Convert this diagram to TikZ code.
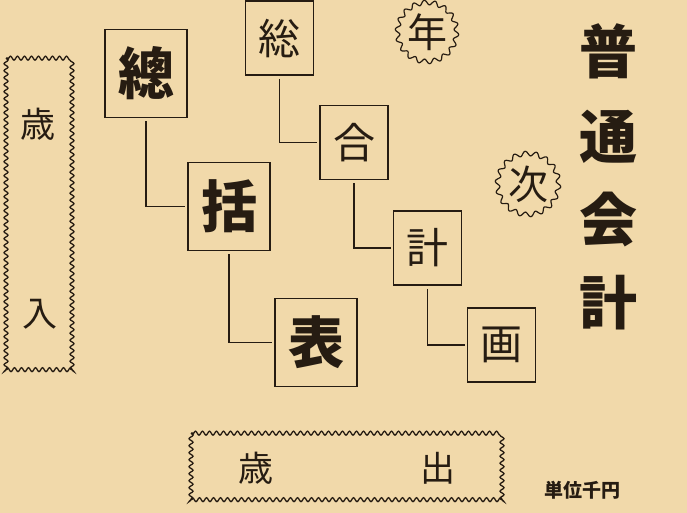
\documentclass[tikz,border=0pt]{standalone}
\usepackage{fontspec}
\setmainfont{Noto Sans CJK JP}
\usetikzlibrary{decorations.pathmorphing}
\definecolor{paper}{RGB}{241,217,170}
\definecolor{ink}{RGB}{38,28,18}
\tikzset{
  bigbox/.style={draw=ink, text=ink, line width=1.8pt, minimum width=82pt, minimum height=88pt, inner sep=0pt, font=\fontsize{56}{56}\selectfont\bfseries},
  smallbox/.style={draw=ink, text=ink, line width=1.6pt, minimum width=68pt, minimum height=74pt, inner sep=0pt, font=\fontsize{42}{42}\selectfont},
  sealchar/.style={text=ink, inner sep=0pt, font=\fontsize{40}{40}\selectfont},
  wavyframe/.style={draw=ink, line width=1.3pt, decorate, decoration={snake, amplitude=2pt, segment length=7pt}},
  framechar/.style={text=ink, inner sep=0pt, font=\fontsize{35}{35}\selectfont},
  titlechar/.style={text=ink, inner sep=0pt, font=\fontsize{58}{58}\selectfont\bfseries},
  link/.style={draw=ink, line width=1.3pt, shorten <=3pt, shorten >=2pt},
}
\begin{document}
\begin{tikzpicture}[x=1pt,y=-1pt]
    \fill[paper] (0,0) rectangle (687,513);
    \useasboundingbox (0,0) rectangle (687,513);

    \node[bigbox] (sou) at (146,73.5) {總};
    \node[bigbox] (katsu) at (229,206.5) {括};
    \node[bigbox] (hyou) at (316,342.5) {表};

    \node[smallbox] (so) at (279.5,38) {総};
    \node[smallbox] (go) at (354,142.5) {合};
    \node[smallbox] (kei) at (427.5,248) {計};
    \node[smallbox] (ga) at (501.5,345) {画};

    \draw[link] (sou.south) |- (katsu.west);
    \draw[link] (katsu.south) |- (hyou.west);
    \draw[link] (so.south) |- (go.west);
    \draw[link] (go.south) |- (kei.west);
    \draw[link] (kei.south) |- (ga.west);

    \node[sealchar] (nen) at (427,32) {年};
    \node[sealchar] (ji) at (528,184) {次};
    \draw[ink, line width=1.2pt, shift={(nen.center)}] plot[domain=0:360, samples=289, smooth]
        ({(29.5+2.3*sin(18*\x))*cos(\x)}, {(29.5+2.3*sin(18*\x))*sin(\x)});
    \draw[ink, line width=1.2pt, shift={(ji.center)}] plot[domain=0:360, samples=289, smooth]
        ({(30.5+2.3*sin(18*\x))*cos(\x)}, {(30.5+2.3*sin(18*\x))*sin(\x)});

    \draw[wavyframe] (6,58) rectangle (74,371);
    \node[framechar] (sai1) at (38,124) {歳};
    \node[framechar] (nyu) at (40,314) {入};

    \draw[wavyframe] (191,433) rectangle (504,501);
    \node[framechar] (sai2) at (256,468) {歳};
    \node[framechar] (shutsu) at (438,468) {出};

    \node[titlechar] (fu) at (608,51) {普};
    \node[titlechar] (tsu) at (608,137) {通};
    \node[titlechar] (kai) at (608,220) {会};
    \node[titlechar] (kei2) at (608,303) {計};

    \node[text=ink, inner sep=0pt, font=\fontsize{19}{19}\selectfont\bfseries] (unit) at (582,490) {単位千円};
\end{tikzpicture}
\end{document}
